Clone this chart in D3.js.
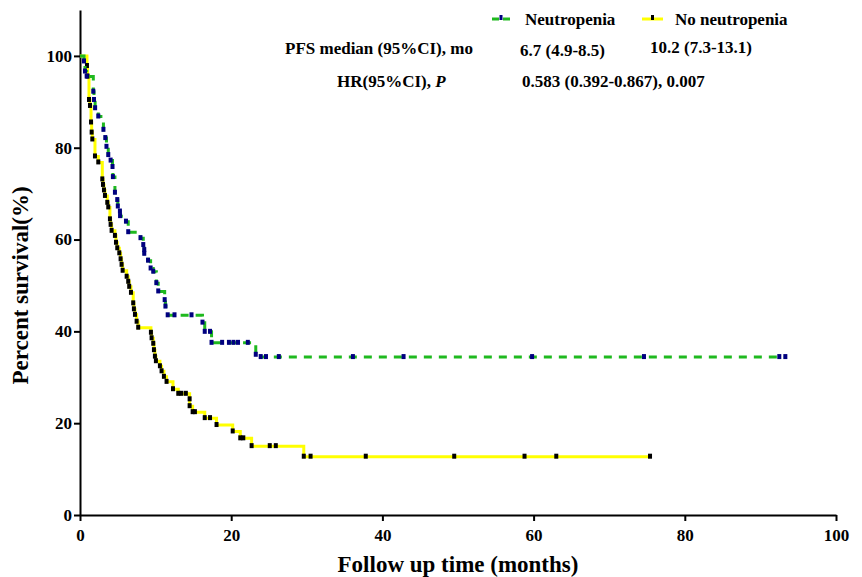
<!DOCTYPE html>
<html>
<head>
<meta charset="utf-8">
<script src="https://cdn.jsdelivr.net/npm/d3@7"></script>
<style>
  body { margin: 0; background: #fff; }
  text { font-family: "Liberation Serif", "Times New Roman", serif; font-weight: bold; fill: #000; }
</style>
</head>
<body>
<div id="chart"></div>
<script>
// Data: [months, percent] for every plotted symbol
var neutPoints = [
  [0.53, 98.8], [0.66, 96.6], [0.88, 95.5], [1.76, 92.2], [1.85, 90.4], [2.0, 88.6],
  [2.42, 86.8], [3.1, 83.9], [3.35, 82.1], [3.5, 80.2], [3.74, 78.4], [4.05, 77.2],
  [4.3, 75.8], [4.35, 73.6], [4.62, 70.2], [4.93, 68.6], [5.0, 67.2], [5.28, 66.1],
  [5.3, 65.1], [6.08, 63.9], [6.38, 61.6], [8.0, 60.3], [8.37, 58.8], [8.5, 57.7],
  [8.5, 56.9], [9.0, 55.4], [9.34, 53.7], [9.69, 53.0], [10.1, 50.5], [10.35, 48.7],
  [11.2, 46.8], [11.3, 45.4], [11.6, 43.5], [12.5, 43.5], [14.75, 43.5], [16.2, 41.9],
  [16.5, 39.9], [17.2, 39.9], [17.4, 37.5], [18.8, 37.5], [19.7, 37.5], [20.3, 37.5],
  [20.9, 37.5], [22.2, 37.5], [23.25, 34.9], [23.9, 34.4], [24.6, 34.4], [26.3, 34.4],
  [36.1, 34.4], [42.8, 34.4], [59.8, 34.4], [74.6, 34.4], [92.5, 34.4], [93.3, 34.4]
];
var noNeutPoints = [
  [0.92, 97.8], [1.0, 95.5], [1.19, 90.4], [1.32, 89.1], [1.46, 85.5], [1.54, 83.3],
  [1.63, 81.8], [1.98, 78.1], [2.42, 76.8], [2.95, 73.1], [3.04, 71.9], [3.17, 70.7],
  [3.3, 69.5], [3.61, 68.0], [3.74, 67.0], [3.96, 64.4], [4.05, 63.2], [4.18, 61.9],
  [4.62, 60.8], [4.76, 59.3], [4.93, 58.1], [5.2, 57.0], [5.37, 55.7], [5.5, 54.5],
  [5.64, 53.2], [6.17, 51.9], [6.38, 50.8], [6.51, 49.7], [6.74, 48.4], [7.04, 46.1],
  [7.13, 44.8], [7.27, 43.6], [7.49, 42.1], [7.7, 40.8], [9.38, 39.7], [9.47, 38.5],
  [9.69, 37.3], [9.78, 35.9], [9.91, 34.5], [10.04, 33.5], [10.57, 32.4], [10.79, 31.3],
  [11.1, 30.1], [11.45, 29.0], [12.3, 27.4], [13.0, 26.4], [13.4, 26.4], [14.0, 26.4],
  [14.5, 25.2], [14.5, 23.7], [14.9, 22.4], [15.2, 22.4], [16.5, 21.1], [17.2, 21.1],
  [18.06, 19.6], [20.2, 18.2], [21.2, 16.7], [21.6, 16.7], [22.7, 15.0], [25.1, 15.0],
  [25.9, 15.0], [29.6, 12.7], [30.5, 12.7], [37.8, 12.7], [49.5, 12.7], [58.8, 12.7],
  [63.0, 12.7], [75.4, 12.7]
];
var xTicks = [0, 20, 40, 60, 80, 100];
var yTicks = [0, 20, 40, 60, 80, 100];
var seriesNames = ["Neutropenia", "No neutropenia"];
var medianLabel = "PFS median (95%CI), mo";
var medianValues = ["6.7 (4.9-8.5)", "10.2 (7.3-13.1)"];
var hrValue = "0.583 (0.392-0.867), 0.007";

// General chart parameters
var svgWidth = 862;
var svgHeight = 577;
var margin = { top: 10, right: 26, bottom: 62, left: 80 };
var width = svgWidth - margin.left - margin.right;
var height = svgHeight - margin.top - margin.bottom;

var svg = d3.select("#chart").append("svg")
  .attr("width", svgWidth)
  .attr("height", svgHeight);

var chartGroup = svg.append("g")
  .attr("transform", `translate(${margin.left}, ${margin.top})`);

var xScale = d3.scaleLinear().domain([0, 100]).range([0, width]);
var yScale = d3.scaleLinear().domain([0, 110]).range([height, 0]);

// Axes
var xAxis = chartGroup.append("g")
  .attr("transform", `translate(0, ${height})`)
  .call(d3.axisBottom(xScale).tickValues(xTicks).tickSize(6).tickSizeOuter(0).tickPadding(8));
var yAxis = chartGroup.append("g")
  .call(d3.axisLeft(yScale).tickValues(yTicks).tickSize(6).tickSizeOuter(0).tickPadding(2));

[xAxis, yAxis].forEach(function (ax) {
  ax.select(".domain").attr("stroke", "#000").attr("stroke-width", 2);
  ax.selectAll(".tick line").attr("stroke", "#000").attr("stroke-width", 2);
  ax.selectAll(".tick text")
    .attr("font-family", "Liberation Serif, serif")
    .attr("font-weight", "bold")
    .attr("font-size", 17)
    .attr("fill", "#000");
});

// Axis titles
chartGroup.append("text")
  .attr("x", width / 2)
  .attr("y", height + 57)
  .attr("text-anchor", "middle")
  .attr("font-size", 23)
  .text("Follow up time (months)");

chartGroup.append("text")
  .attr("transform", "rotate(-90)")
  .attr("x", -yScale(50))
  .attr("y", -52)
  .attr("text-anchor", "middle")
  .attr("font-size", 23)
  .text("Percent survival(%)");

// Survival curves
var stepLine = d3.line()
  .x(d => xScale(d[0]))
  .y(d => yScale(d[1]))
  .curve(d3.curveStepAfter);

function drawCurve(points, lineColor, dash, markColor) {
  var data = [[0, 100]].concat(points);
  chartGroup.append("path")
    .datum(data)
    .attr("fill", "none")
    .attr("stroke", lineColor)
    .attr("stroke-width", 3)
    .attr("stroke-dasharray", dash)
    .attr("d", stepLine);
  chartGroup.append("g").selectAll("rect")
    .data(points)
    .enter()
    .append("rect")
    .attr("x", d => xScale(d[0]) - 2)
    .attr("y", d => yScale(d[1]) - 3)
    .attr("width", 4)
    .attr("height", 5)
    .attr("fill", markColor);
}

drawCurve(noNeutPoints, "#ffff00", null, "#000");
drawCurve(neutPoints, "#1fb91f", "8,7", "#00007f");

// Legend
var legend = svg.append("g");
legend.append("line").attr("x1", 492).attr("x2", 499).attr("y1", 19).attr("y2", 19)
  .attr("stroke", "#1fb91f").attr("stroke-width", 3);
legend.append("line").attr("x1", 503).attr("x2", 510).attr("y1", 19).attr("y2", 19)
  .attr("stroke", "#1fb91f").attr("stroke-width", 3);
legend.append("rect").attr("x", 499.5).attr("y", 15).attr("width", 3).attr("height", 5)
  .attr("fill", "#00007f");
legend.append("text").attr("x", 525).attr("y", 25).attr("font-size", 17).text(seriesNames[0]);

legend.append("line").attr("x1", 642).attr("x2", 663).attr("y1", 19).attr("y2", 19)
  .attr("stroke", "#ffff00").attr("stroke-width", 3);
legend.append("rect").attr("x", 651).attr("y", 15).attr("width", 3).attr("height", 5)
  .attr("fill", "#000");
legend.append("text").attr("x", 675).attr("y", 25).attr("font-size", 17).text(seriesNames[1]);

// Statistics text
legend.append("text").attr("x", 285).attr("y", 54).attr("font-size", 17).text(medianLabel);
legend.append("text").attr("x", 520).attr("y", 56).attr("font-size", 17).text(medianValues[0]);
legend.append("text").attr("x", 650).attr("y", 53).attr("font-size", 17).text(medianValues[1]);

var hrText = legend.append("text").attr("x", 337).attr("y", 87).attr("font-size", 17);
hrText.append("tspan").text("HR(95%CI), ");
hrText.append("tspan").attr("font-style", "italic").text("P");
legend.append("text").attr("x", 522).attr("y", 87).attr("font-size", 17).text(hrValue);
</script>
</body>
</html>
